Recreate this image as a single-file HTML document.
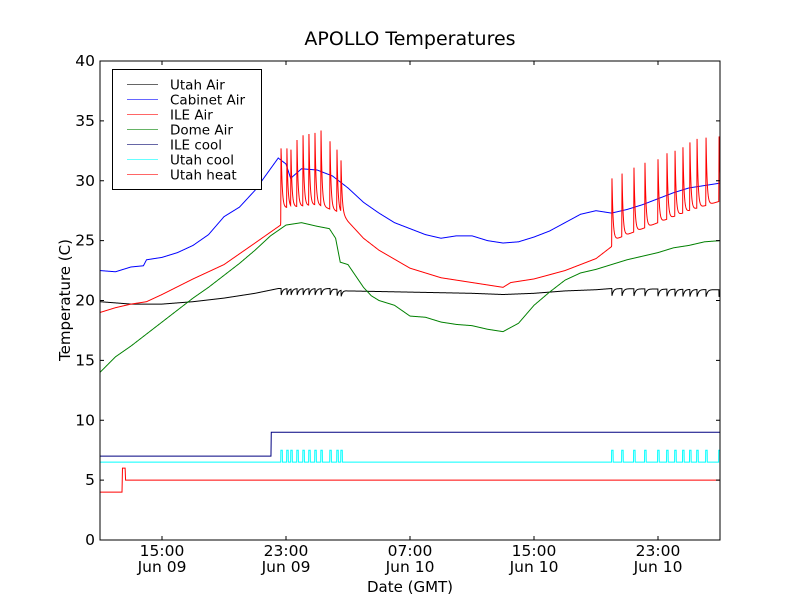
<!DOCTYPE html>
<html><head><meta charset="utf-8"><style>
body{margin:0;background:#fff;}
svg{display:block;font-family:"DejaVu Sans","Liberation Sans",sans-serif;}
</style></head><body>
<svg id="chart" width="800" height="600" viewBox="0 0 800 600">
<defs><clipPath id="clip"><rect x="100" y="61" width="620" height="479"/></clipPath></defs>
<rect width="800" height="600" fill="#fff"/>
<text x="410" y="45" text-anchor="middle" font-size="19">APOLLO Temperatures</text>
<text x="410" y="592" text-anchor="middle" font-size="15">Date (GMT)</text>
<text transform="translate(70,300) rotate(-90)" text-anchor="middle" font-size="15">Temperature (C)</text>
<g id="plot" clip-path="url(#clip)"></g>
<g id="axes"></g>
<g id="legend"></g>
</svg>
<script>
// ---- data (hours since Jun 09 11:00 GMT) ----
const xTickHours = [4, 12, 20, 28, 36];
const xTickTimes = ["15:00", "23:00", "07:00", "15:00", "23:00"];
const xTickDates = ["Jun 09", "Jun 09", "Jun 10", "Jun 10", "Jun 10"];
const yTicks = [0, 5, 10, 15, 20, 25, 30, 35, 40];

const cabinetT = [0,1,2,2.8,3,4,5,6,7,8,9,10,11,11.5,12,12.3,13,14,15,16,17,18,19,20,21,22,23,24,25,26,27,28,29,30,31,32,33,34,35,36,37,38,39,40];
const cabinetV = [22.5,22.4,22.8,22.9,23.4,23.6,24.0,24.6,25.5,27.0,27.8,29.2,31.0,31.9,31.4,30.2,31.0,30.9,30.4,29.4,28.2,27.3,26.5,26.0,25.5,25.2,25.4,25.4,25.0,24.8,24.9,25.3,25.8,26.5,27.2,27.5,27.3,27.6,28.0,28.5,29.0,29.4,29.6,29.8];

const domeT = [0,1,2,3,4,5,6,7,8,9,10,11,12,13,14,14.8,15.2,15.5,16,17,17.5,18,19,20,21,22,23,24,25,26,27,28,29,30,31,32,33,34,35,36,37,38,39,40];
const domeV = [14.0,15.3,16.2,17.2,18.2,19.2,20.2,21.1,22.1,23.1,24.2,25.4,26.3,26.5,26.2,26.0,25.2,23.2,23.0,21.1,20.4,20.0,19.6,18.7,18.6,18.2,18.0,17.9,17.6,17.4,18.1,19.6,20.7,21.7,22.3,22.6,23.0,23.4,23.7,24.0,24.4,24.6,24.9,25.0];

const ileAirT = [0,1,2,3,4,6,8,10,11.65,11.7,14,15.6,16,17,18,20,22,24,26,26.5,28,30,32,33.0,33.05,34,36,38,40];
const ileAirV = [19.0,19.4,19.7,19.9,20.5,21.8,23.0,24.8,26.3,27.7,28.0,27.3,26.6,25.2,24.2,22.7,21.9,21.5,21.1,21.5,21.8,22.5,23.5,24.5,25.0,25.5,26.5,27.5,28.3];

const spikeTimes = [11.68,12.06,12.32,12.71,13.10,13.48,13.87,14.26,14.84,15.29,15.55,33.03,33.68,34.45,35.16,36.0,36.58,37.1,37.61,38.06,38.52,39.1,39.94];
const spikePeaks = [32.7,32.7,32.6,33.4,33.8,33.9,34.0,34.2,33.3,32.6,31.7,30.2,30.6,31.1,31.5,31.8,32.3,32.5,32.8,33.2,33.5,33.6,33.7];

const utahAirT = [0,2,4,6,8,10,11.5,15,16,20,24,26,28,30,32,33,40];
const utahAirV = [19.9,19.7,19.7,19.9,20.2,20.6,21.0,21.0,20.8,20.7,20.6,20.5,20.6,20.8,20.9,21.0,20.9];
const utahAirDip = 0.6;

const ileCoolT = [0,11.03,11.05,40];
const ileCoolV = [7.0,7.0,9.0,9.0];

const utahHeatT = [0,1.42,1.45,1.62,1.65,40];
const utahHeatV = [4.0,4.0,6.0,6.0,5.0,5.0];

const utahCoolBase = 6.5;
const utahCoolOn = 7.5;

// ---- axes ----
const X0 = 100, X1 = 720, Y0 = 540, Y1 = 61, T0 = 0, T1 = 40, V0 = 0, V1 = 40;
const xs = t => X0 + (t - T0) / (T1 - T0) * (X1 - X0);
const ys = v => Y0 - (v - V0) / (V1 - V0) * (Y0 - Y1);
const NS = "http://www.w3.org/2000/svg";
function el(tag, attrs, parent) { const e = document.createElementNS(NS, tag); for (const k in attrs) e.setAttribute(k, attrs[k]); parent.appendChild(e); return e; }
function interp(T, V, t) {
  if (t <= T[0]) return V[0];
  for (let i = 1; i < T.length; i++) if (t <= T[i]) { const f = (t - T[i-1]) / (T[i] - T[i-1]); return V[i-1] + f * (V[i] - V[i-1]); }
  return V[V.length - 1];
}
const plot = document.getElementById('plot');
const axes = document.getElementById('axes');
const legend = document.getElementById('legend');
const dt = 0.01;
function sample(fn) { const pts = []; for (let t = T0; t <= T1 + 1e-9; t += dt) pts.push(xs(t).toFixed(2) + ',' + ys(fn(t)).toFixed(2)); return pts.join(' '); }
function line(pts, color, name) {
  const p = el('polyline', { points: pts, fill: 'none', stroke: color, 'stroke-width': 1 }, plot);
  
  
}

const ileFn = t => { const base = interp(ileAirT, ileAirV, t); let v = base; for (let i = 0; i < spikeTimes.length; i++) { const d = t - spikeTimes[i]; if (d >= -0.02 && d < 0) v = Math.max(v, base + (spikePeaks[i] - base) * (1 + d / 0.02)); else if (d >= 0) v = Math.max(v, base + (spikePeaks[i] - interp(ileAirT, ileAirV, spikeTimes[i])) * Math.exp(-d / 0.07)); } return v; };
const utahAirFn = t => { const v = interp(utahAirT, utahAirV, t); let dip = 0; for (const s of spikeTimes) { const d = t - s; if (d >= 0) dip = Math.max(dip, utahAirDip * Math.exp(-d / 0.1)); } return v - dip; };
const utahCoolFn = t => { for (const s of spikeTimes) if (t >= s - 0.02 && t <= s + 0.08) return utahCoolOn; return utahCoolBase; };

line(sample(utahAirFn), '#000000', 'utah-air-line');
line(sample(t => interp(cabinetT, cabinetV, t)), '#0000ff', 'cabinet-air-line');
line(sample(ileFn), '#ff0000', 'ile-air-line');
line(sample(t => interp(domeT, domeV, t)), '#008000', 'dome-air-line');
line(sample(t => interp(ileCoolT, ileCoolV, t)), '#000080', 'ile-cool-line');
line(sample(utahCoolFn), '#00ffff', 'utah-cool-line');
line(sample(t => interp(utahHeatT, utahHeatV, t)), '#ff0000', 'utah-heat-line');

// frame
const fr = el('rect', { x: X0, y: Y1, width: X1 - X0, height: Y0 - Y1, fill: 'none', stroke: '#000', 'stroke-width': 1 }, axes);


yTicks.forEach(v => {
  const y = ys(v);
  el('line', { x1: X0, x2: X0 + 4, y1: y, y2: y, stroke: '#000' }, axes);
  el('line', { x1: X1, x2: X1 - 4, y1: y, y2: y, stroke: '#000' }, axes);
  const tx = el('text', { x: X0 - 5, y: y + 5, 'text-anchor': 'end', 'font-size': 15.5 }, axes);
  tx.textContent = v;
  
  
});
xTickHours.forEach((h, i) => {
  const x = xs(h);
  el('line', { x1: x, x2: x, y1: Y0, y2: Y0 - 4, stroke: '#000' }, axes);
  el('line', { x1: x, x2: x, y1: Y1, y2: Y1 + 4, stroke: '#000' }, axes);
  const a = el('text', { x: x, y: 556, 'text-anchor': 'middle', 'font-size': 15.5 }, axes);
  a.textContent = xTickTimes[i];
  
  
  const b = el('text', { x: x, y: 572, 'text-anchor': 'middle', 'font-size': 15.5 }, axes);
  b.textContent = xTickDates[i];
  
  
});

// legend
const legNames = ["Utah Air", "Cabinet Air", "ILE Air", "Dome Air", "ILE cool", "Utah cool", "Utah heat"];
const legColors = ["#666666", "#6666ff", "#ff6666", "#66b366", "#6666a6", "#66ffff", "#ff6666"];
const lb = el('rect', { x: 112.5, y: 69.5, width: 149, height: 120, fill: '#fff', stroke: '#000' }, legend);


legNames.forEach((n, i) => {
  const y = 84.5 + i * 15;
  const g = el('g', {}, legend);
  
  
  el('line', { x1: 127, x2: 158, y1: y, y2: y, stroke: legColors[i], 'stroke-width': 1 }, g);
  const t = el('text', { x: 170, y: y + 5, 'font-size': 13.5 }, g);
  t.textContent = n;
});
</script>
</body></html>
